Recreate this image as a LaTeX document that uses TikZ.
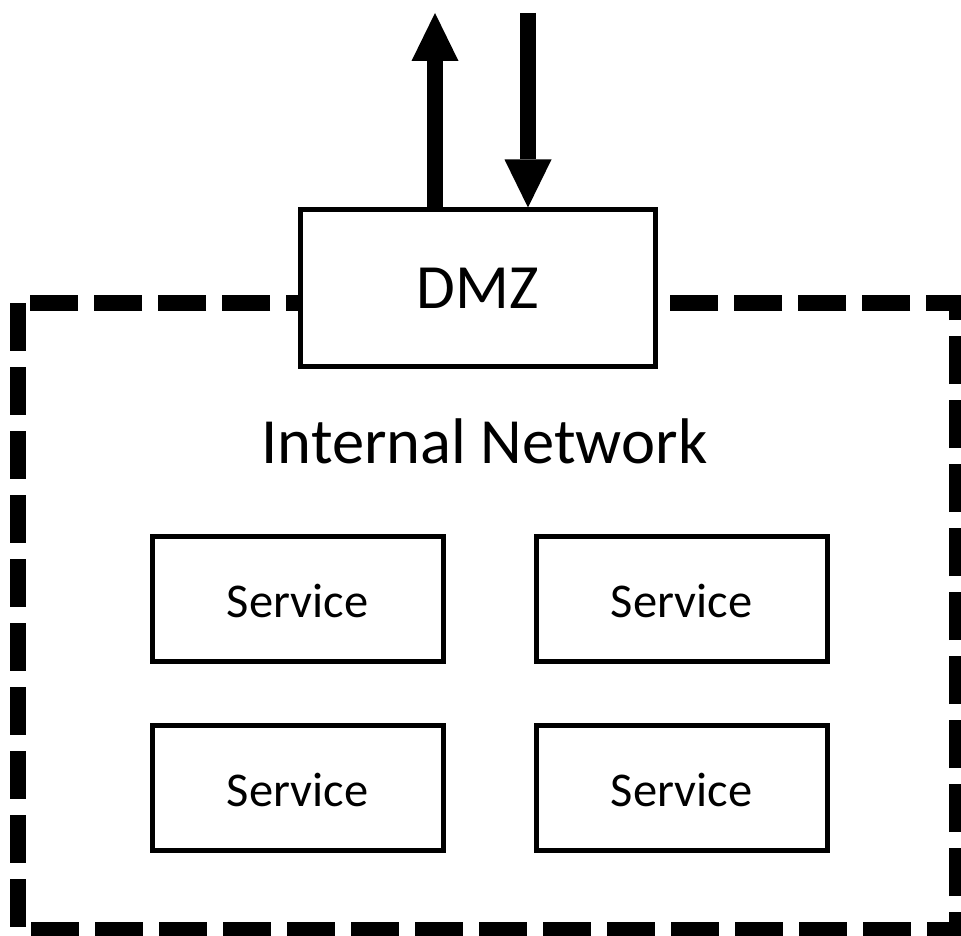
\documentclass[tikz,border=0pt]{standalone}
\usepackage{fontspec}
\setmainfont{Carlito}
\usetikzlibrary{arrows.meta}
\begin{document}
\begin{tikzpicture}[x=1pt,y=-1pt,
  box/.style={draw=black, line width=5pt, fill=white, inner sep=0pt,
    minimum width=291pt, minimum height=125pt,
    text height=37pt, text depth=0pt,
    font=\fontsize{48.5}{58}\selectfont},
  zone/.style={draw=black, line width=16pt, dash pattern=on 48pt off 16pt},
  flow/.style={draw=black, line width=16pt,
    -{Triangle[width=47pt,length=48pt,line width'=0pt]}}]
\useasboundingbox (0,0) rectangle (961,936);
\clip (0,0) rectangle (961,936);
% dashed boundary of the internal network
\draw[zone] (18,303) rectangle (957,930);
% DMZ sits on the boundary
\node[box, minimum width=355pt, minimum height=156pt,
  text height=40pt, text depth=0pt,
  font=\fontsize{63}{76}\selectfont] (dmz) at (477.5,288) {DMZ};
\node[font=\fontsize{64.5}{78}\selectfont, anchor=base] (net) at (484.5,463) {Internal Network};
% services
\node[box] (s1) at (297.5,598.5) {Service};
\node[box] (s2) at (681.5,598.5) {Service};
\node[box] (s3) at (297.5,787.5) {Service};
\node[box] (s4) at (681.5,787.5) {Service};
% outbound and inbound traffic
\coordinate (outTop) at (435,13);
\coordinate (inTop) at (528,13);
\draw[flow] (dmz.north -| outTop) -- (outTop);
\draw[flow] (inTop) -- (inTop |- dmz.north);
\end{tikzpicture}
\end{document}
